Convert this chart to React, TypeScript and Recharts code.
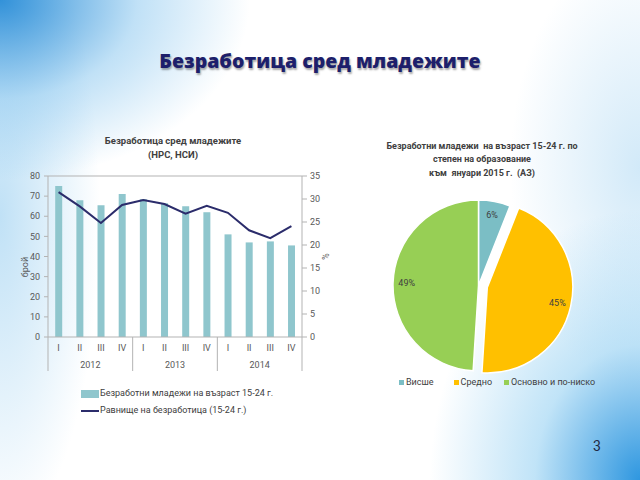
import React from "react";
import {
  ComposedChart,
  Bar,
  Line,
  XAxis,
  YAxis,
  ReferenceLine,
  Label,
  PieChart,
  Pie,
  Cell,
} from "recharts";

// Left chart: youth unemployment by quarter
const quarters = ["I", "II", "III", "IV", "I", "II", "III", "IV", "I", "II", "III", "IV"];
const years = ["2012", "2012", "2012", "2012", "2013", "2013", "2013", "2013", "2014", "2014", "2014", "2014"];
const unemployedYouth = [75, 68, 65.5, 71, 68.5, 66.5, 65, 62, 51, 47, 47.5, 45.5];
const unemploymentRate = [31.5, 28.4, 24.8, 28.7, 29.8, 28.9, 26.8, 28.5, 27, 23.2, 21.5, 24.1];
const countTicks = [0, 10, 20, 30, 40, 50, 60, 70, 80];
const rateTicks = [0, 5, 10, 15, 20, 25, 30, 35];

// Right chart: by education level
const eduLabels = ["Висше", "Средно", "Основно и по-ниско"];
const eduShares = [6, 45, 49];

const slideTitle = "Безработица сред младежите";
const barTitle = ["Безработица сред младежите", "(НРС, НСИ)"];
const pieTitle = ["Безработни младежи  на възраст 15-24 г. по", "степен на образование", "към  януари 2015 г.  (АЗ)"];
const barName = "Безработни младежи на възраст 15-24 г.";
const lineName = "Равнище на безработица (15-24 г.)";

const BAR_COLOR = "#8fc6cd";
const LINE_COLOR = "#2b2c6b";
const PIE_COLORS = ["#7bbec5", "#ffc000", "#97cf55"];
const AXIS = "#b3b3b3";
const TEXT = "#404040";
const FONT = "Roboto, 'Noto Sans', sans-serif";

const tableData = quarters.map((q, i) => ({
  q,
  year: years[i],
  count: unemployedYouth[i],
  rate: unemploymentRate[i],
}));

const pieData = eduLabels.map((name, i) => ({ name, value: eduShares[i] }));

// two-level category tick: quarter, year in the middle of its group, separators
const QuarterTick = (props: any) => {
  const { x, y, payload, index } = props;
  const half = payload?.offset ?? 10.6;
  const n = tableData.length;
  const showYear = index % 4 === 1;
  return (
    <g>
      <text x={x} y={y + 14} textAnchor="middle" fontSize={9} fill="#595959" fontFamily={FONT}>
        {payload.value}
      </text>
      {showYear && (
        <text x={x + half} y={y + 31} textAnchor="middle" fontSize={9} fill="#595959" fontFamily={FONT}>
          {tableData[index].year}
        </text>
      )}
      {index % 4 === 0 && <line x1={x - half} x2={x - half} y1={y} y2={y + 34} stroke={AXIS} />}
      {index === n - 1 && <line x1={x + half} x2={x + half} y1={y} y2={y + 34} stroke={AXIS} />}
    </g>
  );
};

const RAD = Math.PI / 180;
const makePieLabel = (only: number[]) => (props: any) => {
  const { cx, cy, midAngle, outerRadius, index, value } = props;
  if (!only.includes(index)) return null;
  const r = outerRadius * 0.84;
  const x = cx + r * Math.cos(-midAngle * RAD);
  const y = cy + r * Math.sin(-midAngle * RAD);
  return (
    <text x={x} y={y} textAnchor="middle" dominantBaseline="central" fontSize={9} fill={TEXT} fontFamily={FONT}>
      {value}%
    </text>
  );
};

const PIE_CX = 118.5;
const PIE_CY = 105.5;
const EXPLODE = 9;
const explodeAngle = (90 - (eduShares[0] + eduShares[1] / 2) * 3.6) * RAD;

export default function App() {
  return (
    <div
      style={{
        position: "absolute",
        left: 0,
        top: 0,
        width: 640,
        height: 480,
        overflow: "hidden",
        fontFamily: FONT,
        background: [
          "radial-gradient(ellipse 250px 180px at 0% 0%, rgba(40,140,215,0.95), rgba(130,195,238,0.5) 55%, rgba(255,255,255,0) 100%)",
          "radial-gradient(ellipse 210px 270px at 100% 100%, rgba(35,145,222,0.95), rgba(130,200,240,0.5) 50%, rgba(255,255,255,0) 100%)",
          "radial-gradient(ellipse 100px 320px at 0% 45%, rgba(150,205,240,0.6), rgba(255,255,255,0) 100%)",
          "radial-gradient(ellipse 130px 220px at 100% 35%, rgba(165,212,242,0.5), rgba(255,255,255,0) 100%)",
          "#ffffff",
        ].join(","),
      }}
    >
      <div
        style={{
          position: "absolute",
          left: 0,
          width: 640,
          top: 47,
          textAlign: "center",
          fontFamily: "'Open Sans', sans-serif",
          fontWeight: 800,
          fontSize: 19.5,
          color: "#1d1f6b",
          textShadow: "1px 2px 2px rgba(0,0,0,0.35)",
        }}
      >
        {slideTitle}
      </div>

      {/* bar + line chart */}
      <div style={{ position: "absolute", left: 0, top: 134, width: 346, textAlign: "center", fontSize: 9.5, fontWeight: 700, color: TEXT, lineHeight: "14px" }}>
        {barTitle.map((t) => (
          <div key={t}>{t}</div>
        ))}
      </div>
      <div style={{ position: "absolute", left: 0, top: 0 }}>
        <ComposedChart
          width={340}
          height={380}
          data={tableData}
          margin={{ top: 176, right: 8, bottom: 5, left: 0 }}
          barCategoryGap="34%"
        >
          <XAxis
            dataKey="q"
            interval={0}
            height={38}
            tickSize={0}
            tickMargin={0}
            tickLine={false}
            axisLine={{ stroke: AXIS }}
            tick={<QuarterTick />}
          />
          <YAxis
            yAxisId="left"
            domain={[0, 80]}
            ticks={countTicks}
            width={48}
            tickSize={4}
            tickMargin={4}
            axisLine={{ stroke: AXIS }}
            tickLine={{ stroke: AXIS }}
            tick={{ fontSize: 9, fill: "#595959", fontFamily: FONT }}
          >
            <Label
              content={() => (
                <text
                  x={25}
                  y={267}
                  transform="rotate(-90 25 267)"
                  textAnchor="middle"
                  dominantBaseline="central"
                  fontSize={9}
                  fill="#595959"
                  fontFamily={FONT}
                >
                  брой
                </text>
              )}
            />
          </YAxis>
          <YAxis
            yAxisId="right"
            orientation="right"
            domain={[0, 35]}
            ticks={rateTicks}
            width={30}
            tickSize={5}
            tickMargin={3}
            axisLine={{ stroke: AXIS }}
            tickLine={{ stroke: AXIS }}
            tick={{ fontSize: 9, fill: "#595959", fontFamily: FONT }}
          >
            <Label
              content={(p: any) => {
                const vb = p.viewBox || { x: 302, y: 176, width: 30, height: 161 };
                const lx = vb.x + vb.width - 7;
                const ly = vb.y + vb.height / 2;
                return (
                  <text
                    x={lx}
                    y={ly}
                    transform={`rotate(90 ${lx} ${ly})`}
                    textAnchor="middle"
                    dominantBaseline="central"
                    fontSize={9}
                    fill="#595959"
                    fontFamily={FONT}
                  >
                    %
                  </text>
                );
              }}
            />
          </YAxis>
          <ReferenceLine yAxisId="left" y={80} stroke={AXIS} />
          <Bar yAxisId="left" dataKey="count" name={barName} fill={BAR_COLOR} isAnimationActive={false} />
          <Line
            yAxisId="right"
            dataKey="rate"
            name={lineName}
            stroke={LINE_COLOR}
            strokeWidth={2}
            dot={false}
            type="linear"
            isAnimationActive={false}
          />
        </ComposedChart>
      </div>
      <div style={{ position: "absolute", left: 81, top: 385, fontSize: 9, color: TEXT, lineHeight: "17px" }}>
        <div style={{ display: "flex", alignItems: "center" }}>
          <span style={{ display: "inline-block", width: 18, height: 8, background: BAR_COLOR, marginRight: 1 }} />
          {barName}
        </div>
        <div style={{ display: "flex", alignItems: "center" }}>
          <span style={{ display: "inline-block", width: 18, height: 2, background: LINE_COLOR, marginRight: 1 }} />
          {lineName}
        </div>
      </div>

      {/* pie chart */}
      <div style={{ position: "absolute", left: 362, top: 140, width: 240, textAlign: "center", fontSize: 9, fontWeight: 700, color: TEXT, lineHeight: "13.3px", whiteSpace: "pre" }}>
        {pieTitle.map((t) => (
          <div key={t}>{t}</div>
        ))}
      </div>
      <div style={{ position: "absolute", left: 360, top: 180 }}>
        <PieChart width={240} height={210} margin={{ top: 0, right: 0, bottom: 0, left: 0 }}>
          <Pie
            data={pieData}
            dataKey="value"
            cx={PIE_CX}
            cy={PIE_CY}
            outerRadius={85.5}
            startAngle={90}
            endAngle={-270}
            stroke="#ffffff"
            strokeWidth={1.5}
            labelLine={false}
            label={makePieLabel([0, 2])}
            isAnimationActive={false}
          >
            {pieData.map((d, i) => (
              <Cell key={d.name} fill={i === 1 ? "transparent" : PIE_COLORS[i]} stroke={i === 1 ? "none" : "#ffffff"} />
            ))}
          </Pie>
          <Pie
            data={pieData}
            dataKey="value"
            cx={PIE_CX + EXPLODE * Math.cos(explodeAngle)}
            cy={PIE_CY - EXPLODE * Math.sin(explodeAngle)}
            outerRadius={85.5}
            startAngle={90}
            endAngle={-270}
            stroke="#ffffff"
            strokeWidth={1.5}
            labelLine={false}
            label={makePieLabel([1])}
            isAnimationActive={false}
          >
            {pieData.map((d, i) => (
              <Cell key={d.name} fill={i === 1 ? PIE_COLORS[i] : "transparent"} stroke={i === 1 ? "#ffffff" : "none"} />
            ))}
          </Pie>
        </PieChart>
      </div>
      <div style={{ position: "absolute", left: 399, top: 376, display: "flex", fontSize: 9, color: TEXT, lineHeight: "12px" }}>
        {eduLabels.map((name, i) => (
          <div key={name} style={{ display: "flex", alignItems: "center", marginRight: i === 0 ? 20 : 12 }}>
            <span style={{ display: "inline-block", width: 5, height: 5, background: PIE_COLORS[i], marginRight: 2 }} />
            {name}
          </div>
        ))}
      </div>

      <div style={{ position: "absolute", left: 593, top: 438, fontSize: 14, color: "#1f2a44" }}>3</div>
    </div>
  );
}
